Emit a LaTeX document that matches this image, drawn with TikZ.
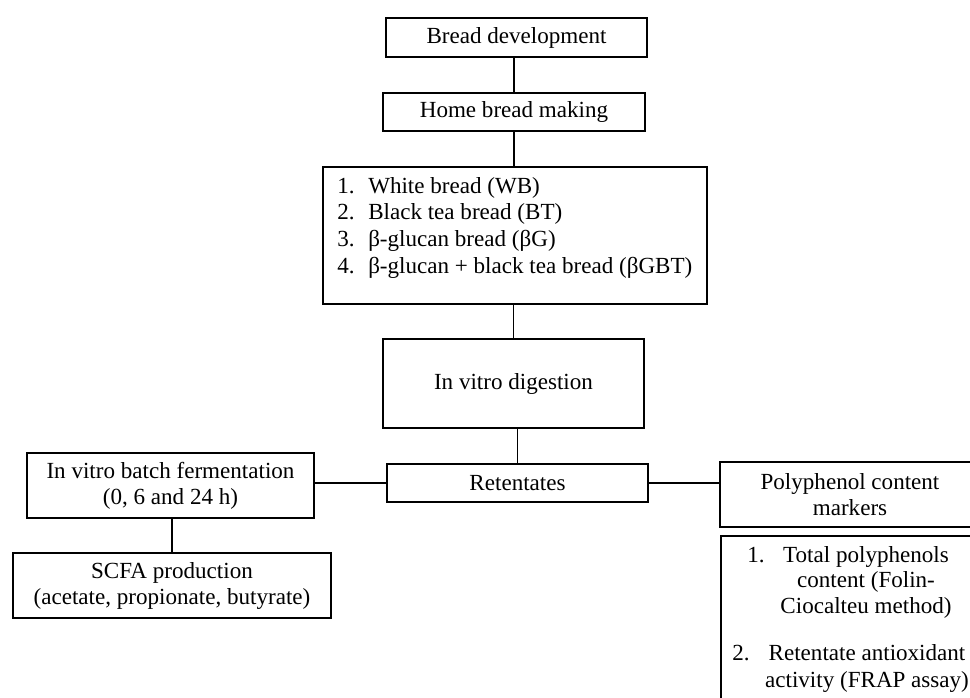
\documentclass[tikz,border=0pt]{standalone}
\usepackage{fontspec}
\setmainfont{Liberation Serif}
\begin{document}
\begin{tikzpicture}[x=0.75pt,y=-0.75pt,
  box/.style={draw, line width=1pt, inner sep=0pt, align=center},
  txt/.style={inner sep=0pt},
  conn/.style={line width=1pt},
  every node/.style={font=\fontsize{17.3}{19.5}\selectfont}]
\useasboundingbox (0,0) rectangle (970,697);
\clip (0,0) rectangle (970,697);
% boxes
\node[box, minimum width=195.75pt, minimum height=29.25pt] (bd) at (516.5,37.5) {Bread development};
\node[box, minimum width=196.5pt, minimum height=28.5pt] (hb) at (514,112) {Home bread making};
\node[box, minimum width=288pt, minimum height=102.75pt] (breads) at (515,235.5) {};
\node[txt, anchor=base west, align=left] (breadtxt) at (337,193) {%
  \begin{tabular}[t]{@{}l@{}}
  \makebox[23.25pt][l]{1.}White bread (WB)\\[0.5pt]
  \makebox[23.25pt][l]{2.}Black tea bread (BT)\\[0.5pt]
  \makebox[23.25pt][l]{3.}β-glucan bread (βG)\\[0.5pt]
  \makebox[23.25pt][l]{4.}β-glucan + black tea bread (βGBT)
  \end{tabular}};
\node[box, minimum width=195.75pt, minimum height=66.75pt] (ivd) at (513.5,383.5) {In vitro digestion};
\node[box, minimum width=195.75pt, minimum height=28.5pt] (ret) at (517.5,483) {Retentates};
\node[box, minimum width=215.25pt, minimum height=48.75pt] (ferm) at (170.5,485.5) {In vitro batch fermentation\\(0, 6 and 24 h)};
\node[box, minimum width=238.5pt, minimum height=48.75pt] (scfa) at (172,585.5) {SCFA production\\(acetate, propionate, butyrate)};
\node[box, minimum width=195pt, minimum height=48.75pt] (poly) at (850,494.5) {Polyphenol content\\markers};
\node[box, minimum width=210pt, minimum height=150pt] (methods) at (861,636) {};
\node[txt, anchor=base east] (n1) at (765,562) {1.};
\node[txt, anchor=base] (m1a) at (866,562) {Total polyphenols};
\node[txt, anchor=base] (m1b) at (866,587) {content (Folin-};
\node[txt, anchor=base] (m1c) at (866,613) {Ciocalteu method)};
\node[txt, anchor=base east] (n2) at (750,660) {2.};
\node[txt, anchor=base] (m2a) at (867,660) {Retentate antioxidant};
\node[txt, anchor=base] (m2b) at (867,687) {activity (FRAP assay)};
% connectors
\draw[conn] (hb.north) -- (hb.north |- bd.south);
\draw[conn] (hb.south) -- (hb.south |- breads.north);
\draw[conn] (ivd.north) -- (ivd.north |- breads.south);
\draw[conn] (ret.north) -- (ret.north |- ivd.south);
\draw[conn] (ret.west) -- (ret.west -| ferm.east);
\draw[conn] (ret.east) -- (ret.east -| poly.west);
\draw[conn] (scfa.north) -- (scfa.north |- ferm.south);
\end{tikzpicture}
\end{document}
